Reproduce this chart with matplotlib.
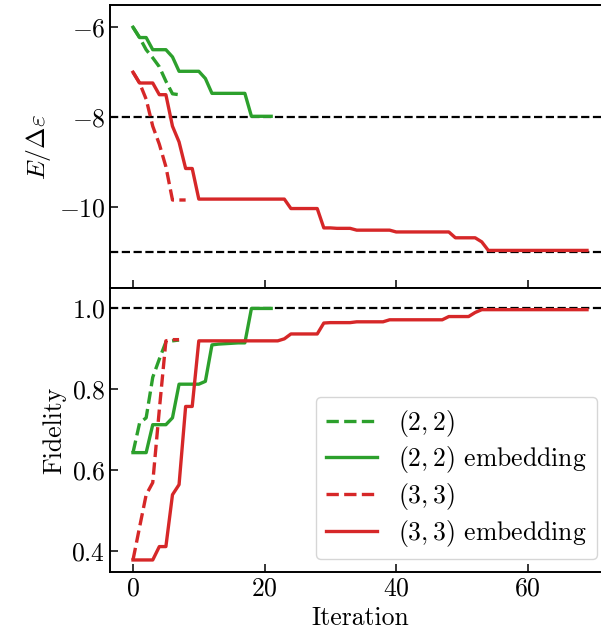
import numpy as np
import matplotlib
matplotlib.use("Agg")
import matplotlib.pyplot as plt

plt.rcParams.update({
    "font.family": "serif",
    "font.serif": ["cmr10"],
    "mathtext.fontset": "cm",
    "axes.formatter.use_mathtext": True,
    "font.size": 18.5,
    "axes.linewidth": 1.4,
    "xtick.direction": "in",
    "ytick.direction": "in",
    "xtick.major.size": 6,
    "ytick.major.size": 6,
    "xtick.major.width": 1.1,
    "ytick.major.width": 1.1,
})

# (2,2) plain
e22 = [-6.0, -6.23, -6.5, -6.68, -6.88, -7.2, -7.48, -7.5]
f22 = [0.644, 0.717, 0.73, 0.83, 0.875, 0.917, 0.92, 0.922]

# (2,2) embedding
e22_emb = [-6.0, -6.23, -6.23, -6.5, -6.5, -6.5, -6.66, -6.98, -6.98, -6.98,
           -6.98, -7.14, -7.47, -7.47, -7.47, -7.47, -7.47, -7.47, -7.98, -7.98,
           -7.98, -7.98]
f22_emb = [0.644, 0.644, 0.644, 0.713, 0.713, 0.713, 0.73, 0.813, 0.813, 0.813,
           0.813, 0.82, 0.91, 0.912, 0.913, 0.914, 0.915, 0.915, 1.0, 1.0,
           1.0, 1.0]

# (3,3) plain
e33 = [-7.0, -7.24, -7.6, -8.2, -8.6, -9.1, -9.84, -9.84, -9.84]
f33 = [0.379, 0.46, 0.54, 0.57, 0.75, 0.92, 0.923, 0.923]

# (3,3) embedding
e33_emb = ([-7.0, -7.24, -7.24, -7.24, -7.5, -7.5, -8.2, -8.55, -9.14, -9.14]
           + [-9.82] * 14
           + [-10.03] * 5
           + [-10.46, -10.46, -10.47, -10.47, -10.47]
           + [-10.51] * 6
           + [-10.55] * 9
           + [-10.68] * 4
           + [-10.77]
           + [-10.96] * 16)
f33_emb = ([0.379, 0.379, 0.379, 0.379, 0.412, 0.412, 0.54, 0.565, 0.758, 0.758]
           + [0.92] * 13
           + [0.925]
           + [0.937] * 5
           + [0.964, 0.965, 0.965, 0.965, 0.965]
           + [0.967] * 5
           + [0.972] * 9
           + [0.98] * 4
           + [0.99]
           + [0.997] * 17)

e_ref = [-8.0, -11.0]
f_ref = 1.0

green = "#2ca02c"
red = "#d62728"
lw = 2.4

W, H = 601, 636
fig = plt.figure(figsize=(W / 100, H / 100), dpi=100)
left = 110.3 / W
width = (609.7 - 110.3) / W
h = 283.5 / H
ax1 = fig.add_axes([left, 1 - (4.7 + 283.5) / H, width, h])
ax2 = fig.add_axes([left, 1 - (4.7 + 2 * 283.5) / H, width, h], sharex=ax1)

for y in e_ref:
    ax1.axhline(y, color="black", ls="--", lw=1.6, zorder=1)
ax2.axhline(f_ref, color="black", ls="--", lw=1.6, zorder=1)

ax1.plot(np.arange(len(e22)), e22, color=green, ls="--", lw=lw)
ax1.plot(np.arange(len(e22_emb)), e22_emb, color=green, ls="-", lw=lw)
ax1.plot(np.arange(len(e33)), e33, color=red, ls="--", lw=lw)
ax1.plot(np.arange(len(e33_emb)), e33_emb, color=red, ls="-", lw=lw)

ax2.plot(np.arange(len(f22)), f22, color=green, ls="--", lw=lw, label=r"$(2,2)$")
ax2.plot(np.arange(len(f22_emb)), f22_emb, color=green, ls="-", lw=lw,
         label=r"$(2,2)$ embedding")
ax2.plot(np.arange(len(f33)), f33, color=red, ls="--", lw=lw, label=r"$(3,3)$")
ax2.plot(np.arange(len(f33_emb)), f33_emb, color=red, ls="-", lw=lw,
         label=r"$(3,3)$ embedding")

ax1.set_xlim(-3.45, 72.45)
ax1.set_ylim(-11.8, -5.5)
ax2.set_ylim(0.35, 1.05)
ax1.set_yticks([-6, -8, -10])
ax2.set_yticks([0.4, 0.6, 0.8, 1.0])
ax2.set_xticks([0, 20, 40, 60])
ax1.tick_params(labelbottom=False)

ax1.set_ylabel(r"$E/\Delta\varepsilon$")
ax2.set_ylabel("Fidelity")
ax2.set_xlabel("Iteration")

ax2.legend(loc="lower right", handlelength=2.0, labelspacing=0.22)

fig.savefig("out.png", dpi=100)
